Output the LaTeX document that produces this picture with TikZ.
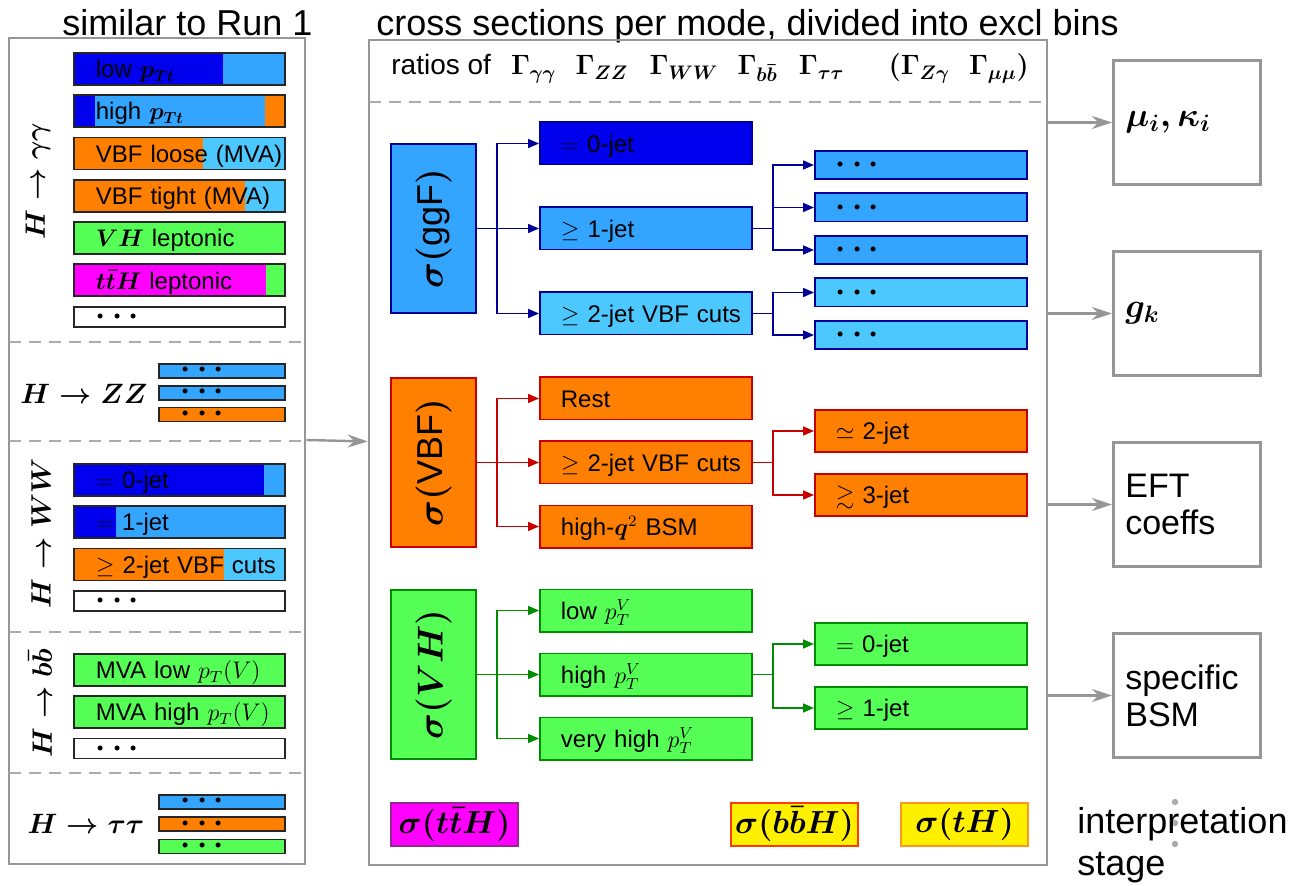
\RequirePackage{fix-cm}
\documentclass[tikz,border=0pt]{standalone}
\usepackage{amsmath,amssymb,bm}
\usepackage[no-math]{fontspec}
\setmainfont{Liberation Sans}
\usetikzlibrary{arrows.meta,positioning}

\definecolor{jetdark}{RGB}{0,0,238}
\definecolor{ggfblue}{RGB}{51,165,255}
\definecolor{vbfcyan}{RGB}{77,200,255}
\definecolor{vbforange}{RGB}{255,128,0}
\definecolor{vhgreen}{RGB}{85,255,85}
\definecolor{tthmag}{RGB}{255,0,255}
\definecolor{rareyellow}{RGB}{255,240,0}
\definecolor{ggfline}{RGB}{0,0,153}
\definecolor{vbfline}{RGB}{200,0,0}
\definecolor{vhline}{RGB}{0,140,0}
\definecolor{tthedge}{RGB}{150,40,150}
\definecolor{bbhedge}{RGB}{255,60,0}
\definecolor{thedge}{RGB}{255,150,30}
\definecolor{frame}{RGB}{150,150,150}

\newcommand{\fsz}[2]{\fontsize{#1}{#2}\selectfont}

\begin{document}
\begin{tikzpicture}[x=0.5pt,y=-0.5pt,>={Triangle[length=5.5pt,width=4.5pt]},
  twotone/.style n args={3}{fill=#2,path picture={\fill[#1] (path picture bounding box.south west) rectangle ([xshift=#3]path picture bounding box.north west);}}]
  \tikzstyle{panel}=[draw=frame,line width=1.3pt,inner sep=0pt]
  \tikzstyle{sep}=[frame!80,dash pattern=on 6pt off 4pt,line width=0.7pt]
  \tikzstyle{decay}=[font=\fsz{14}{16}\boldmath,inner sep=0pt]
  \tikzstyle{bar}=[draw=black!85,line width=0.9pt,inner sep=0pt,anchor=north west,text width=105.6pt,align=left,minimum height=16pt,text height=8.7pt,text depth=0pt,font=\fsz{12}{14},execute at begin node={\hspace*{11pt}}]
  \tikzstyle{dots}=[font=\fsz{16}{16}\boldmath,text height=8pt]
  \tikzstyle{mini}=[bar,dots,text width=63.1pt,minimum height=6.6pt,text height=7pt]
  \tikzstyle{mode}=[draw,line width=0.9pt,inner sep=0pt,anchor=north west,minimum width=42.6pt,minimum height=84.6pt,font=\fsz{18}{20}\boldmath]
  \tikzstyle{bin}=[draw,line width=0.9pt,inner sep=0pt,text width=106.1pt,align=left,minimum height=21.1pt,text height=8.7pt,text depth=0pt,font=\fsz{12}{14},execute at begin node={\hspace*{10.5pt}}]
  \tikzstyle{sub}=[bin,dots,minimum height=14.1pt]
  \tikzstyle{rare}=[line width=1pt,inner sep=0pt,minimum width=63.5pt,minimum height=21.5pt,anchor=north west,font=\fsz{16}{18}\boldmath]
  \tikzstyle{interp}=[draw=frame,line width=1.3pt,inner xsep=6pt,inner ysep=0pt,text width=61.7pt,align=left,minimum height=62.2pt,font=\fsz{17}{18.5}\boldmath]
  \tikzstyle{garrow}=[frame,line width=1.2pt,-{Stealth[length=10pt,width=6.5pt]}]
  \useasboundingbox (0,0) rectangle (1293,886);

  % headings
  \node[anchor=base west,inner sep=0pt,font=\fsz{18}{20}] (runone) at (62,36) {similar to Run 1};
  \node[anchor=base west,inner sep=0pt,font=\fsz{18}{20}] (xsec) at (376,36) {cross sections per mode, divided into excl bins};

  % left panel: Run 1 categories
  \node[panel,minimum width=148pt,minimum height=413pt] (lpanel) at (157,451) {};
  \draw[sep] (9,342) -- (305,342);
  \draw[sep] (9,441) -- (305,441);
  \draw[sep] (9,632) -- (305,632);
  \draw[sep] (9,773) -- (305,773);

  \node[decay,rotate=90] (haa) at (38,181) {$H\to\gamma\gamma$};
  \node[bar,twotone={jetdark}{ggfblue}{74.5pt}] (aa1) at (73,52) {low $\bm{p_{Tt}}$};
  \node[bar,below=4.25pt of aa1,fill=vbforange,path picture={
      \fill[ggfblue] (path picture bounding box.south west) rectangle ([xshift=95.5pt]path picture bounding box.north west);
      \fill[jetdark] (path picture bounding box.south west) rectangle ([xshift=10.6pt]path picture bounding box.north west);}] (aa2) {high $\bm{p_{Tt}}$};
  \node[bar,below=4.25pt of aa2,twotone={vbforange}{vbfcyan}{64.5pt}] (aa3) {VBF loose (MVA)};
  \node[bar,below=4.25pt of aa3,twotone={vbforange}{vbfcyan}{85.5pt}] (aa4) {VBF tight (MVA)};
  \node[bar,below=4.25pt of aa4,fill=vhgreen] (aa5) {$\bm{VH}$ leptonic};
  \node[bar,below=4.25pt of aa5,twotone={tthmag}{vhgreen}{96pt}] (aa6) {$\bm{t\bar tH}$ leptonic};
  \node[bar,dots,below=4.25pt of aa6,fill=white,minimum height=10pt] (aa7) {$\cdots$};

  \node[decay] (hzz) at (84,394) {$H\to ZZ$};
  \node[mini,fill=ggfblue] (zz1) at (158,363) {$\cdots$};
  \node[mini,below=3pt of zz1,fill=ggfblue] (zz2) {$\cdots$};
  \node[mini,below=3pt of zz2,fill=vbforange] (zz3) {$\cdots$};

  \node[decay,rotate=90] (hww) at (41,533) {$H\to WW$};
  \node[bar,twotone={jetdark}{ggfblue}{95pt}] (ww1) at (73,463) {$=$ 0-jet};
  \node[bar,below=4.25pt of ww1,twotone={jetdark}{ggfblue}{21pt}] (ww2) {$=$ 1-jet};
  \node[bar,below=4.25pt of ww2,twotone={vbforange}{vbfcyan}{75pt}] (ww3) {$\geq$ 2-jet VBF cuts};
  \node[bar,dots,below=4.25pt of ww3,fill=white,minimum height=10pt] (ww4) {$\cdots$};

  \node[decay,rotate=90] (hbb) at (40,703) {$H\to b\bar b$};
  \node[bar,fill=vhgreen] (bb1) at (73,653) {MVA low $p_T(V)$};
  \node[bar,below=4.25pt of bb1,fill=vhgreen] (bb2) {MVA high $p_T(V)$};
  \node[bar,dots,below=4.25pt of bb2,fill=white,minimum height=10pt] (bb3) {$\cdots$};

  \node[decay] (htt) at (86,824) {$H\to\tau\tau$};
  \node[mini,fill=ggfblue] (tt1) at (158,794) {$\cdots$};
  \node[mini,below=3.25pt of tt1,fill=vbforange] (tt2) {$\cdots$};
  \node[mini,below=3.25pt of tt2,fill=vhgreen] (tt3) {$\cdots$};

  % centre panel: simplified template cross sections
  \node[panel,minimum width=339pt,minimum height=412.5pt] (cpanel) at (708,452.5) {};
  \node[anchor=base west,inner sep=0pt,font=\fsz{14}{16}\boldmath] (ratios) at (391,75)
    {ratios of\hspace{10pt}$\Gamma_{\gamma\gamma}$\hspace{9.5pt}$\Gamma_{ZZ}$\hspace{10.5pt}$\Gamma_{WW}$\hspace{9.5pt}$\Gamma_{b\bar b}$\hspace{10.5pt}$\Gamma_{\tau\tau}$\hspace{22pt}$(\Gamma_{Z\gamma}$\hspace{9.5pt}$\Gamma_{\mu\mu})$};
  \draw[sep] (369,102) -- (1047,102);

  \draw[garrow] ([yshift=5.5pt]lpanel.east) -- ([yshift=5.5pt]cpanel.west);

  % ggF
  \node[mode,draw=ggfline,fill=ggfblue] (sggf) at (390,143) {\rotatebox{90}{$\sigma($ggF$)$}};
  \node[bin,draw=ggfline,fill=ggfblue,right=31pt of sggf] (gone) {$\geq$ 1-jet};
  \node[bin,draw=ggfline,fill=jetdark,above=20.5pt of gone] (gzero) {$=$ 0-jet};
  \node[bin,draw=ggfline,fill=vbfcyan,below=20.5pt of gone] (gtwo) {$\geq$ 2-jet VBF cuts};
  \node[sub,draw=ggfline,fill=ggfblue,anchor=north west] (g1) at (814,150) {$\cdots$};
  \node[sub,draw=ggfline,fill=ggfblue,below=6.25pt of g1] (g2) {$\cdots$};
  \node[sub,draw=ggfline,fill=ggfblue,below=6.25pt of g2] (g3) {$\cdots$};
  \node[sub,draw=ggfline,fill=vbfcyan,below=6.25pt of g3] (g4) {$\cdots$};
  \node[sub,draw=ggfline,fill=vbfcyan,below=6.25pt of g4] (g5) {$\cdots$};
  \draw[ggfline,line width=0.8pt,->] (sggf.east) -- ++(10pt,0pt) |- (gzero.west);
  \draw[ggfline,line width=0.8pt,->] (sggf.east) -- (gone.west);
  \draw[ggfline,line width=0.8pt,->] (sggf.east) -- ++(10pt,0pt) |- (gtwo.west);
  \draw[ggfline,line width=0.8pt,->] (gone.east) -- ++(10pt,0pt) |- (g1.west);
  \draw[ggfline,line width=0.8pt,->] (gone.east) -- ++(10pt,0pt) |- (g2.west);
  \draw[ggfline,line width=0.8pt,->] (gone.east) -- ++(10pt,0pt) |- (g3.west);
  \draw[ggfline,line width=0.8pt,->] (gtwo.east) -- ++(10pt,0pt) |- (g4.west);
  \draw[ggfline,line width=0.8pt,->] (gtwo.east) -- ++(10pt,0pt) |- (g5.west);

  % VBF
  \node[mode,draw=vbfline,fill=vbforange] (svbf) at (390,377) {\rotatebox{90}{$\sigma($VBF$)$}};
  \node[bin,draw=vbfline,fill=vbforange,right=31pt of svbf] (vtwo) {$\geq$ 2-jet VBF cuts};
  \node[bin,draw=vbfline,fill=vbforange,above=10pt of vtwo] (vrest) {Rest};
  \node[bin,draw=vbfline,fill=vbforange,below=10pt of vtwo] (vbsm) {high-$\bm{q}^2$ BSM};
  \node[bin,draw=vbfline,fill=vbforange,anchor=north west] (vsim) at (814,409) {$\simeq$ 2-jet};
  \node[bin,draw=vbfline,fill=vbforange,below=10pt of vsim] (vgt) {$\gtrsim$ 3-jet};
  \draw[vbfline,line width=0.8pt,->] (svbf.east) -- ++(10pt,0pt) |- (vrest.west);
  \draw[vbfline,line width=0.8pt,->] (svbf.east) -- (vtwo.west);
  \draw[vbfline,line width=0.8pt,->] (svbf.east) -- ++(10pt,0pt) |- (vbsm.west);
  \draw[vbfline,line width=0.8pt,->] (vtwo.east) -- ++(10pt,0pt) |- (vsim.west);
  \draw[vbfline,line width=0.8pt,->] (vtwo.east) -- ++(10pt,0pt) |- (vgt.west);

  % VH
  \node[mode,draw=vhline,fill=vhgreen] (svh) at (390,589) {\rotatebox{90}{$\sigma(VH)$}};
  \node[bin,draw=vhline,fill=vhgreen,right=31pt of svh] (hhigh) {high $p_T^V$};
  \node[bin,draw=vhline,fill=vhgreen,above=10pt of hhigh] (hlow) {low $p_T^V$};
  \node[bin,draw=vhline,fill=vhgreen,below=10pt of hhigh] (hvery) {very high $p_T^V$};
  \node[bin,draw=vhline,fill=vhgreen,anchor=north west] (hzero) at (814,622) {$=$ 0-jet};
  \node[bin,draw=vhline,fill=vhgreen,below=10pt of hzero] (hone) {$\geq$ 1-jet};
  \draw[vhline,line width=0.8pt,->] (svh.east) -- ++(10pt,0pt) |- (hlow.west);
  \draw[vhline,line width=0.8pt,->] (svh.east) -- (hhigh.west);
  \draw[vhline,line width=0.8pt,->] (svh.east) -- ++(10pt,0pt) |- (hvery.west);
  \draw[vhline,line width=0.8pt,->] (hhigh.east) -- ++(10pt,0pt) |- (hzero.west);
  \draw[vhline,line width=0.8pt,->] (hhigh.east) -- ++(10pt,0pt) |- (hone.west);

  % small modes
  \node[rare,draw=tthedge,fill=tthmag] (stth) at (390,802) {$\sigma(t\bar tH)$};
  \node[rare,draw=bbhedge,fill=rareyellow] (sbbh) at (730,802) {$\sigma(b\bar bH)$};
  \node[rare,draw=thedge,fill=rareyellow] (sth) at (900,802) {$\sigma(tH)$};

  % interpretation
  \node[interp,anchor=north west] (mukap) at (1112,59) {$\mu_i, \kappa_i$};
  \node[interp,below=32pt of mukap] (gk) {$g_k$};
  \node[interp,below=32pt of gk] (eft) {EFT\\coeffs};
  \node[interp,below=32pt of eft] (bsm) {specific\\BSM};
  \draw[garrow] (cpanel.east |- mukap.west) -- (mukap.west);
  \draw[garrow] (cpanel.east |- gk.west) -- (gk.west);
  \draw[garrow] (cpanel.east |- eft.west) -- (eft.west);
  \draw[garrow] (cpanel.east |- bsm.west) -- (bsm.west);

  \foreach \y in {802,823,844}
    \fill[frame!80] (1175,\y) circle (1.6pt);
  \node[anchor=north west,inner sep=0pt,align=left,font=\fsz{18}{21}] (stage) at (1077,807) {interpretation\\stage};
\end{tikzpicture}
\end{document}
